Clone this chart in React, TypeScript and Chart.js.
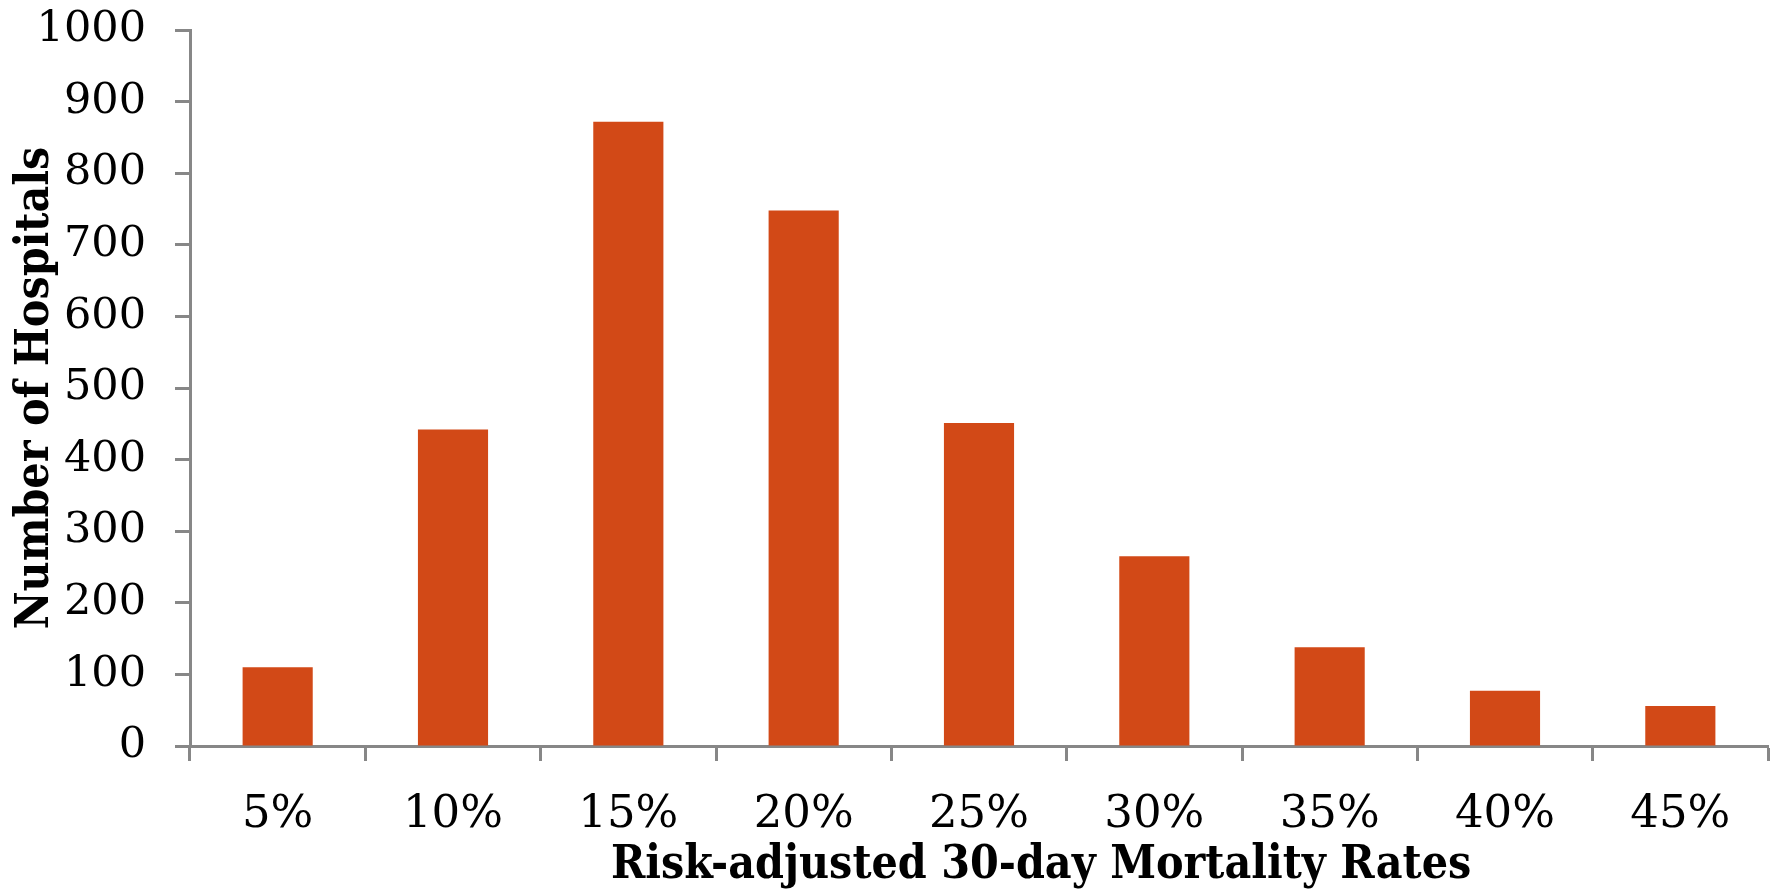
import React, { useEffect, useRef } from "react";
import { Chart, registerables } from "chart.js";

Chart.register(...registerables);

const categories = ["5%", "10%", "15%", "20%", "25%", "30%", "35%", "40%", "45%"];
const hospitals = [110, 442, 872, 748, 451, 265, 138, 77, 56];
const yTicks = [0, 100, 200, 300, 400, 500, 600, 700, 800, 900, 1000];

const xTitle = "Risk-adjusted 30-day Mortality Rates";
const yTitle = "Number of Hospitals";

const AXIS = "#878787";
const BAR = "#D24917";
const TITLE_FONT = "'DejaVu Serif Condensed', 'DejaVu Serif'";

export default function App() {
  const ref = useRef<HTMLCanvasElement | null>(null);
  useEffect(() => {
    document.body.style.margin = "0";
    const canvas = ref.current;
    if (!canvas) return;
    const chart = new Chart(canvas, {
      type: "bar",
      data: {
        labels: categories,
        datasets: [
          {
            data: hospitals,
            backgroundColor: BAR,
            borderWidth: 0,
            categoryPercentage: 1,
            barPercentage: 0.4,
          },
        ],
      },
      options: {
        animation: false,
        responsive: false,
        devicePixelRatio: 1,
        layout: { padding: { top: 30, right: 3, left: 0, bottom: 0 } },
        plugins: { legend: { display: false }, tooltip: { enabled: false } },
        scales: {
          x: {
            offset: true,
            afterFit: (axis: any) => {
              axis.height = 143;
              axis.paddingLeft = 0;
              axis.paddingRight = 0;
            },
            grid: {
              display: true,
              offset: true,
              drawOnChartArea: false,
              drawTicks: true,
              tickLength: 15,
              tickWidth: 3,
              tickColor: AXIS,
            },
            border: { display: true, color: AXIS, width: 3 },
            ticks: {
              color: "#000",
              padding: 27,
              font: { family: "'DejaVu Serif'", size: 45 },
              maxRotation: 0,
            },
            title: {
              display: true,
              text: "\u2003\u2003\u2003" + xTitle,
              color: "#000",
              padding: { top: 0, bottom: 0 },
              font: { family: TITLE_FONT, size: 46, weight: "bold", lineHeight: 1.0 },
            },
          },
          y: {
            min: 0,
            max: 1000,
            afterBuildTicks: (axis: any) => {
              axis.ticks = yTicks.map((v) => ({ value: v }));
            },
            afterFit: (axis: any) => {
              axis.width = 190;
              axis.paddingTop = 0;
              axis.paddingBottom = 0;
            },
            grid: {
              display: true,
              drawOnChartArea: false,
              drawTicks: true,
              tickLength: 15,
              tickWidth: 3,
              tickColor: AXIS,
            },
            border: { display: true, color: AXIS, width: 3 },
            ticks: {
              color: "#000",
              padding: 29,
              font: { family: "'DejaVu Serif'", size: 43 },
              callback: (v: any) => String(v),
            },
            title: {
              display: true,
              text: yTitle,
              color: "#000",
              padding: { top: 13, bottom: 0 },
              font: { family: TITLE_FONT, size: 46, weight: "bold", lineHeight: 1.0 },
            },
          },
        },
      },
    });
    return () => chart.destroy();
  }, []);
  return (
    <div style={{ position: "fixed", left: 0, top: 0, width: 1771, height: 889, background: "#fff" }}>
      <canvas ref={ref} width={1771} height={889} style={{ width: 1771, height: 889 }} />
    </div>
  );
}
